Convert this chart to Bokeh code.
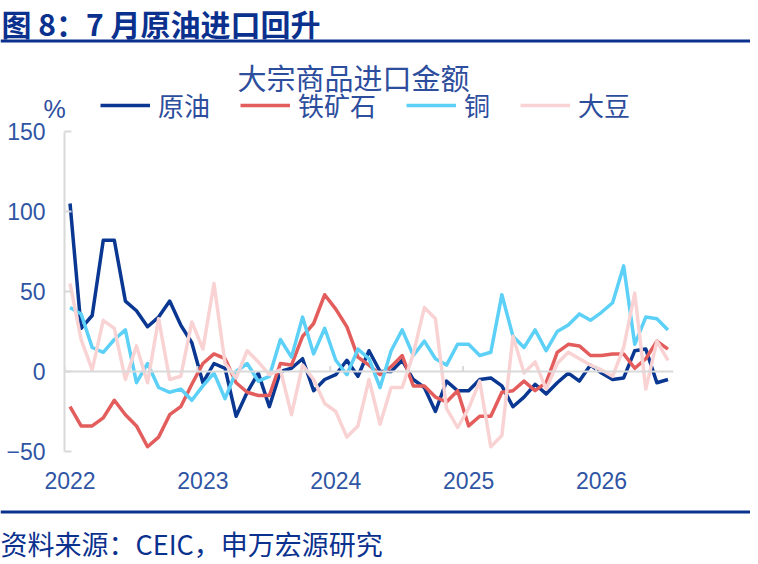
import pandas as pd
from bokeh.plotting import figure
from bokeh.layouts import column
from bokeh.models import Range1d, FixedTicker, Span, Label, Legend, LegendItem
from bokeh.embed import file_html
from bokeh.resources import INLINE

# monthly data, Jan 2022 - Jul 2026 (% yoy)
months = pd.period_range("2022-01", "2026-07", freq="M")
years = ["2022", "2023", "2024", "2025", "2026"]
y_ticks = [-50, 0, 50, 100, 150]

crude = [105, 27, 35, 82, 82, 44, 38, 28, 34, 44, 29, 18,
         -7, 5, 2, -28, -13, -1, -22, 0, 2, 8, -12, -5,
         -2, 7, -3, 13, 0, 0, 7, -5, -10, -25, -6, -12,
         -12, -5, -4, -9, -22, -16, -8, -14, -7, -1, -6, 4,
         -1, -5, -4, 13, 14, -7, -5]
iron_ore = [-22, -34, -34, -29, -18, -27, -34, -47, -41, -27, -22, -8,
            5, 11, 8, -7, -13, -15, -15, 5, 4, 22, 30, 48,
            39, 28, 9, 4, -2, 3, 10, -9, -9, -16, -19, -12,
            -34, -28, -28, -13, -12, -6, -12, -7, 12, 17, 16, 10,
            10, 11, 11, 2, 8, 19, 14]
copper = [40, 36, 15, 12, 20, 26, -7, 5, -10, -13, -11, -18,
          -9, -1, -17, 0, 5, -6, -3, 20, 9, 34, 11, 27,
          7, -2, 14, 8, -10, 13, 26, 10, 19, 8, 4, 17,
          17, 10, 12, 48, 22, 15, 26, 13, 25, 29, 36, 32,
          37, 43, 66, 17, 34, 33, 26]
soybean = [55, 20, 1, 32, 27, -5, 16, -7, 33, -5, -3, 31,
           14, 55, 5, -4, 13, 6, -2, 1, -27, 4, -5, -20,
           -25, -41, -34, -5, -33, -10, -10, 11, 40, 33, -23, -35,
           -23, -6, -47, -40, 22, -1, 6, -11, 5, 12, 8, 4,
           1, -3, 15, 49, -11, 19, 7]

# x in months since Jan 2022, points sit mid-month
x = [(m - months[0]).n + 0.5 for m in months]

CJK = "Noto Sans CJK SC"
NUM = "Liberation Sans"
DARK = "#0B318F"
MID = "#2D4D9D"
TICK = "#2F55A4"
GRAY = "#D9D9D9"
W = 750
HEAD = 126      # header canvas height
OVERLAP = 12    # main canvas slides up under the header's bottom edge

series = [("原油", crude, "#0A3791"), ("铁矿石", iron_ore, "#E35D5D"),
          ("铜", copper, "#5CD0F7"), ("大豆", soybean, "#F9D3D4")]

# ---- main chart
p = figure(width=W, height=387, x_range=Range1d(0, len(months)), y_range=Range1d(-50, 150),
           output_backend="svg", toolbar_location=None, frame_align=False,
           min_border_left=64, min_border_right=77, min_border_top=17, min_border_bottom=50)
p.margin = (-OVERLAP, 0, 0, 0)
p.background_fill_alpha = 0
p.border_fill_alpha = 0
p.grid.visible = False
p.outline_line_color = None

for name, vals, col in series:
    p.line(x, vals, line_color=col, line_width=3.5, line_join="round")

# zero line with year ticks
p.add_layout(Span(location=0, dimension="width", line_color=GRAY, line_width=2))
tick_x = [12 * i for i in range(len(years))]
p.segment(x0=tick_x, y0=0, x1=tick_x, y1=3.5, line_color=GRAY, line_width=2)

p.xaxis.ticker = FixedTicker(ticks=[t + 0.5 for t in tick_x])
p.xaxis.major_label_overrides = {t + 0.5: y for t, y in zip(tick_x, years)}
p.xaxis.axis_line_color = None
p.xaxis.major_tick_line_color = None
p.xaxis.minor_tick_line_color = None
p.xaxis.major_label_standoff = 14

p.yaxis.ticker = FixedTicker(ticks=y_ticks)
p.yaxis.axis_line_color = GRAY
p.yaxis.axis_line_width = 2
p.yaxis.major_tick_line_color = GRAY
p.yaxis.major_tick_line_width = 2
p.yaxis.major_tick_in = 7
p.yaxis.major_tick_out = 0
p.yaxis.minor_tick_line_color = None
p.yaxis.major_label_standoff = 19

for ax in (p.xaxis, p.yaxis):
    ax.major_label_text_font = NUM
    ax.major_label_text_font_size = "23px"
    ax.major_label_text_color = TICK

# ---- header: title, rule, chart title, legend (y runs down, in px)
h = figure(width=W, height=HEAD, x_range=Range1d(0, W), y_range=Range1d(HEAD, 0),
           x_axis_type=None, y_axis_type=None, min_border=0, frame_align=False,
           output_backend="svg", toolbar_location=None)
h.grid.visible = False
h.outline_line_color = None

h.add_layout(Label(x=1, y=22.5, text="图 8：7 月原油进口回升", text_baseline="middle",
                   text_font=CJK, text_font_size="30px", text_font_style="bold",
                   text_color=DARK))
h.add_layout(Span(location=40.5, dimension="width", line_color=DARK, line_width=3))
h.add_layout(Label(x=353, y=76, text="大宗商品进口金额", text_align="center",
                   text_baseline="middle", text_font=CJK, text_font_size="29px",
                   text_color=MID))
h.add_layout(Label(x=54, y=108, text="%", text_align="center", text_baseline="middle",
                   text_font=NUM, text_font_size="25px", text_color=MID))

# legend swatches: renderers kept off-canvas, only their legend entries show
items = []
for name, vals, col in series:
    r = h.line([-20, -10], [-20, -20], line_color=col, line_width=3.5)
    items.append(LegendItem(label=name, renderers=[r]))
h.add_layout(Legend(items=items, location=(100, HEAD - 108 - 15), orientation="horizontal",
                    glyph_width=50, glyph_height=30, label_height=30,
                    label_standoff=8, spacing=30, padding=0, margin=0,
                    border_line_alpha=0, background_fill_alpha=0,
                    label_text_font=CJK, label_text_font_size="26px",
                    label_text_color=MID))

# ---- footer: rule and source
f = figure(width=W, height=63, x_range=Range1d(0, W), y_range=Range1d(63, 0),
           x_axis_type=None, y_axis_type=None, min_border=0, frame_align=False,
           output_backend="svg", toolbar_location=None)
f.grid.visible = False
f.outline_line_color = None
f.add_layout(Span(location=10.5, dimension="width", line_color=DARK, line_width=3))
f.add_layout(Label(x=0, y=42, text="资料来源：CEIC，申万宏源研究", text_baseline="middle",
                   text_font=CJK, text_font_size="27px", text_color=DARK))

open("out.html", "w").write(file_html(column(h, p, f, spacing=0), INLINE))
